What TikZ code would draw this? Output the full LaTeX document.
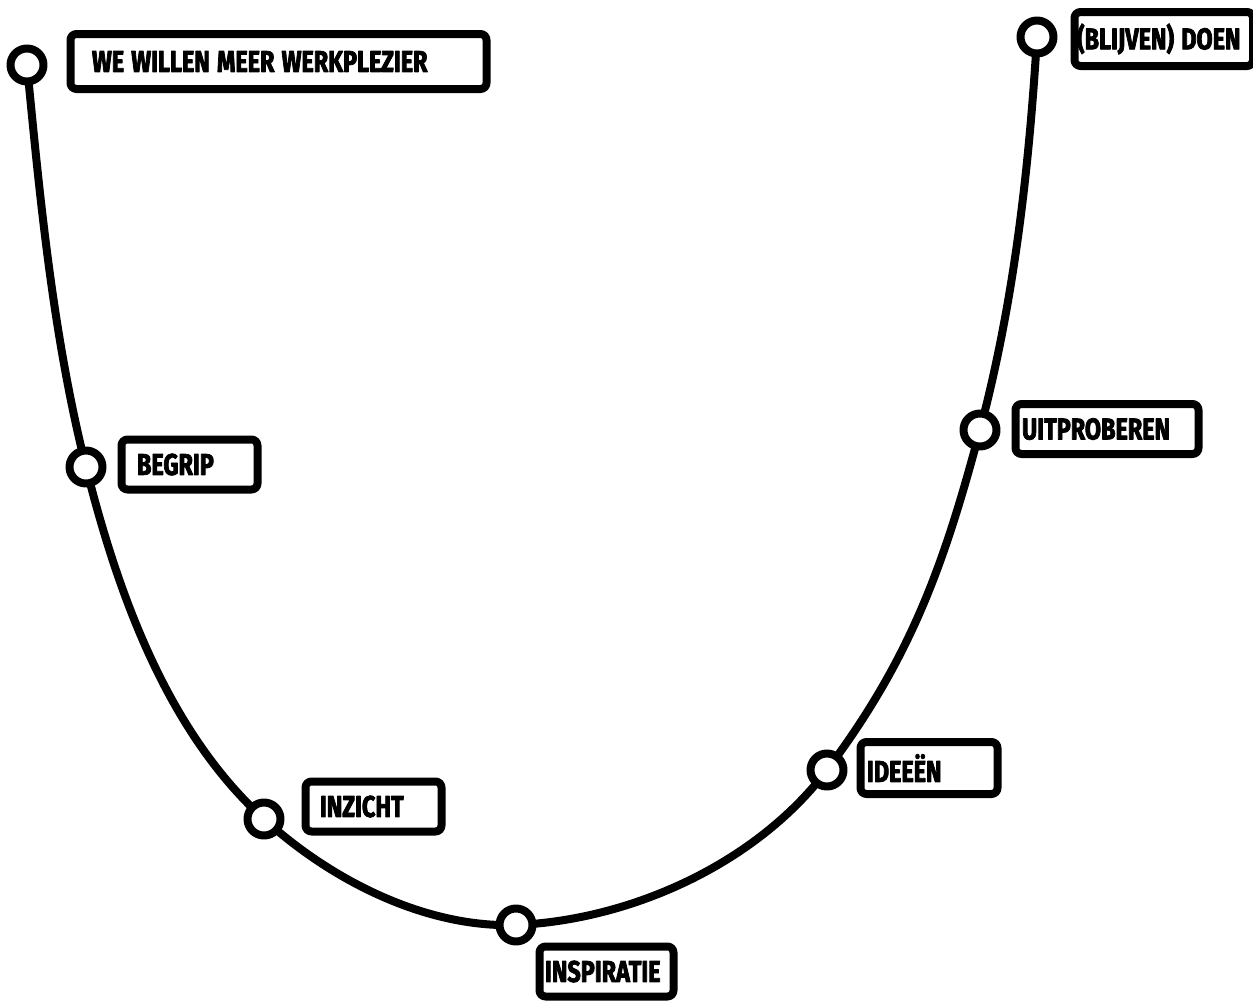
\documentclass[tikz,border=0pt]{standalone}
\usepackage{fontspec}
\newfontfamily\stagefont{Fira Sans}[FakeStretch=0.78, FakeBold=2.5]
\newcommand\stagetext{\stagefont\bfseries\fontsize{15}{17}\selectfont}
\tikzset{
	stage/.style={draw, line width=4pt, rounded corners=3pt, anchor=west, align=left,
		minimum height=25pt, inner ysep=0pt, font=\stagetext,
		execute at begin node={\spaceskip=0.24em\relax}},
	halte/.style={circle, draw, fill=white, line width=4pt, minimum size=16.5pt, inner sep=0pt},
}
\begin{document}
\begin{tikzpicture}[x=0.5pt, y=-0.5pt, line join=round, line cap=round]
	\useasboundingbox (0,0) rectangle (1253,1001);
	% punten langs de curve
	\coordinate (pA) at (27,65);
	\coordinate (pB) at (86,467);
	\coordinate (pC) at (264,819);
	\coordinate (pD) at (516,925);
	\coordinate (pE) at (827,770);
	\coordinate (pF) at (980,430);
	\coordinate (pG) at (1037,37);
	\draw[line width=4pt] (pA) .. controls (40,199) and (53,336) .. (pB)
		.. controls (118,594) and (167,731) .. (pC)
		.. controls (331,880) and (425,928) .. (pD)
		.. controls (632,920) and (757,863) .. (pE)
		.. controls (911,658) and (944,565) .. (pF)
		.. controls (1014,302) and (1029,169) .. (pG);
	\foreach \p in {A,B,C,D,E,F,G} \node[halte] (h\p) at (p\p) {};
	% labels
	\node[stage, text width=186.5pt, inner xsep=10.75pt, minimum height=27.5pt] (plezier) at (66.5,61.5) {WE WILLEN MEER WERKPLEZIER};
	\node[stage, text width=52.5pt, inner xsep=7.75pt] (begrip) at (117.5,464.5) {BEGRIP};
	\node[stage, text width=53.5pt, inner xsep=7.25pt] (inzicht) at (301.5,806.5) {INZICHT};
	\node[stage, text width=61.5pt, inner xsep=2.75pt] (inspiratie) at (535.5,971.5) {INSPIRATIE};
	\node[stage, text width=62pt, inner xsep=3.25pt, minimum height=26pt] (ideeen) at (856.5,768) {IDEEËN};
	\node[stage, text width=85pt, inner xsep=3.25pt] (uitproberen) at (1011.5,429) {UITPROBEREN};
	\node[stage, text width=86.75pt, inner xsep=1.25pt, minimum height=27pt] (doen) at (1070.5,39) {(BLIJVEN)~DOEN};
\end{tikzpicture}
\end{document}
